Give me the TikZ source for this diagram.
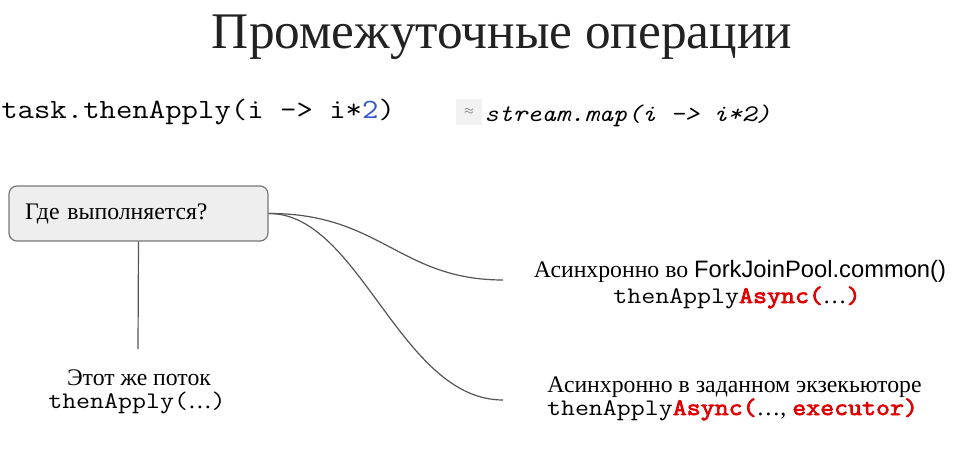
\documentclass[tikz,border=0pt]{standalone}
\usepackage{fontspec}
\setmainfont{Liberation Serif}
\setmonofont{Latin Modern Mono}[FakeStretch=1.143]
\newfontfamily\codebold{Latin Modern Mono}[FakeStretch=1.143,FakeBold=3]
\newfontfamily\arialfont{Liberation Sans}
\definecolor{inkgray}{HTML}{222222}
\definecolor{linegray}{HTML}{555555}
\definecolor{boxfill}{HTML}{EEEEEE}
\definecolor{boxline}{HTML}{777777}
\definecolor{codeblue}{HTML}{3355CC}
\definecolor{asyncred}{HTML}{E00000}
\newcommand{\redbf}[1]{\textcolor{asyncred}{\codebold #1}}
\newcommand{\slidesize}{\fontsize{17.8}{20}\selectfont}
\tikzset{
  px/.style={x=0.75pt,y=-0.75pt},
  txt/.style={inner sep=0pt,anchor=base,text=black},
  question/.style={draw=boxline,line width=0.9pt,fill=boxfill,rounded corners=6pt,
    minimum width=194.25pt,minimum height=41.25pt,inner xsep=12pt,
    text width=170.25pt,align=left,font=\slidesize},
  branch/.style={draw=linegray,line width=0.9pt},
  approx/.style={fill=black!5,inner sep=0pt,minimum width=19pt,minimum height=20pt,
    text=black!60,font=\fontsize{9}{10}\selectfont},
}
\begin{document}
\begin{tikzpicture}[px]
\useasboundingbox (0,0) rectangle (967,467);

% heading
\node[txt,text=inkgray,font=\fontsize{38.5}{42}\selectfont] (title) at (502,49) {Промежуточные операции};

% code samples
\node[txt,anchor=base west,font=\ttfamily\fontsize{20.9}{23}\selectfont] (apply) at (1,118)
  {task.thenApply(i -> i*\textcolor{codeblue}{2})};
\node[approx] (approx) at (469,112) {$\approx$};
\node[txt,anchor=base west,font=\ttfamily\itshape\fontsize{17.9}{20}\selectfont] (map) at (484,122)
  {stream.map(i -> i*2)};

% question box
\node[question] (where) at (138.5,213.5) {Где выполняется?};

% answers
\coordinate (same) at (138,349);
\node[txt,font=\slidesize] (sameA) at (139,385) {Этот же поток};
\node[txt,font=\ttfamily\slidesize] (sameB) at (137,408) {thenApply(\textrm{…})};

\coordinate (pool) at (503,280);
\node[txt,font=\slidesize] (poolA) at (740,277)
  {Асинхронно во {\arialfont ForkJoinPool.common()}};
\node[txt,font=\ttfamily\slidesize] (poolB) at (737,303)
  {thenApply\redbf{Async(}\textrm{…}\redbf{)}};

\coordinate (exec) at (503,400);
\node[txt,font=\slidesize] (execA) at (734.5,392)
  {Асинхронно в заданном экзекьюторе};
\node[txt,font=\ttfamily\slidesize] (execB) at (732.5,415)
  {thenApply\redbf{Async(}\textrm{…, }\redbf{executor)}};

% connectors
\draw[branch] (where.south) -- (same);
\draw[branch] (where.east) .. controls (380,213) and (400,280) .. (pool);
\draw[branch] (where.east) .. controls (360,213) and (400,400) .. (exec);
\end{tikzpicture}
\end{document}
